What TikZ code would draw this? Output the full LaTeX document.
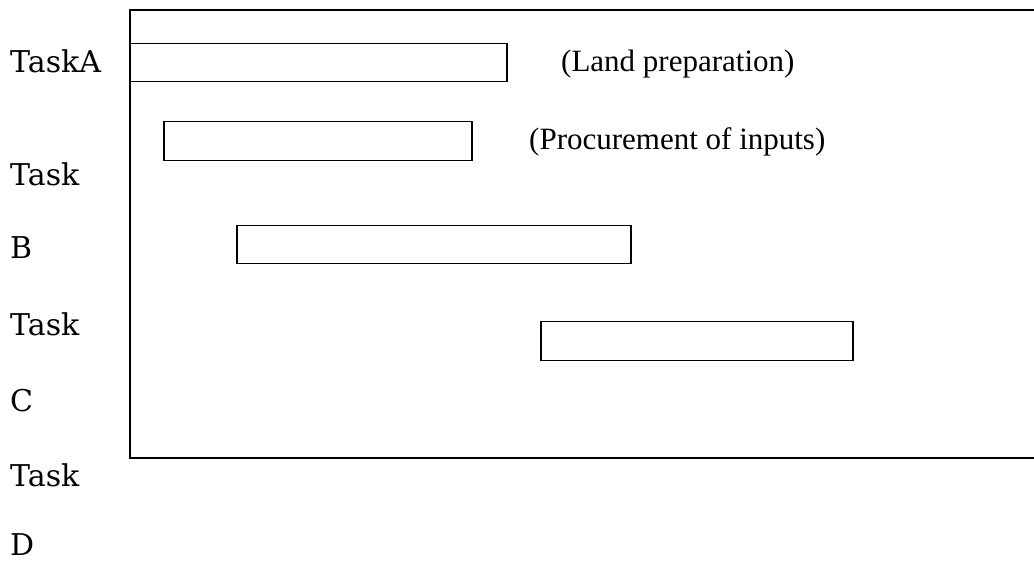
\documentclass[tikz,border=0pt]{standalone}
\usepackage{fontspec}
\setmainfont{Liberation Serif}
\newfontfamily\schoolfont{DejaVu Serif}
\begin{document}
\begin{tikzpicture}[x=1pt,y=-1pt,
  bar/.style={draw,line width=1.3pt,minimum width=#1,inner sep=0pt,minimum height=38.5pt},
  tasklabel/.style={anchor=base west,inner sep=0pt,font=\schoolfont\fontsize{30}{34}\selectfont},
  note/.style={anchor=base west,inner sep=0pt,font=\fontsize{31}{36}\selectfont}]
\useasboundingbox (0,0) rectangle (1034,561);
\draw[line width=2pt] (1036,10) -- (130,10) -- (130,458) -- (1036,458);
\node[bar=377pt] (barA) at (318.5,62.5) {};
\node[bar=308pt] (barB) at (318,141) {};
\node[bar=394pt] (barC) at (434,244.5) {};
\node[bar=312pt] (barD) at (697,341) {};
\node[note] (nA) at (561,72) {(Land preparation)};
\node[note] (nB) at (529,150) {(Procurement of inputs)};
\node[tasklabel] (l1) at (10,73) {TaskA};
\node[tasklabel] (l2) at (10,186) {Task};
\node[tasklabel] (l3) at (10,259) {B};
\node[tasklabel] (l4) at (10,336) {Task};
\node[tasklabel] (l5) at (10,411) {C};
\node[tasklabel] (l6) at (10,486) {Task};
\node[tasklabel] (l7) at (10,555) {D};
\end{tikzpicture}
\end{document}
